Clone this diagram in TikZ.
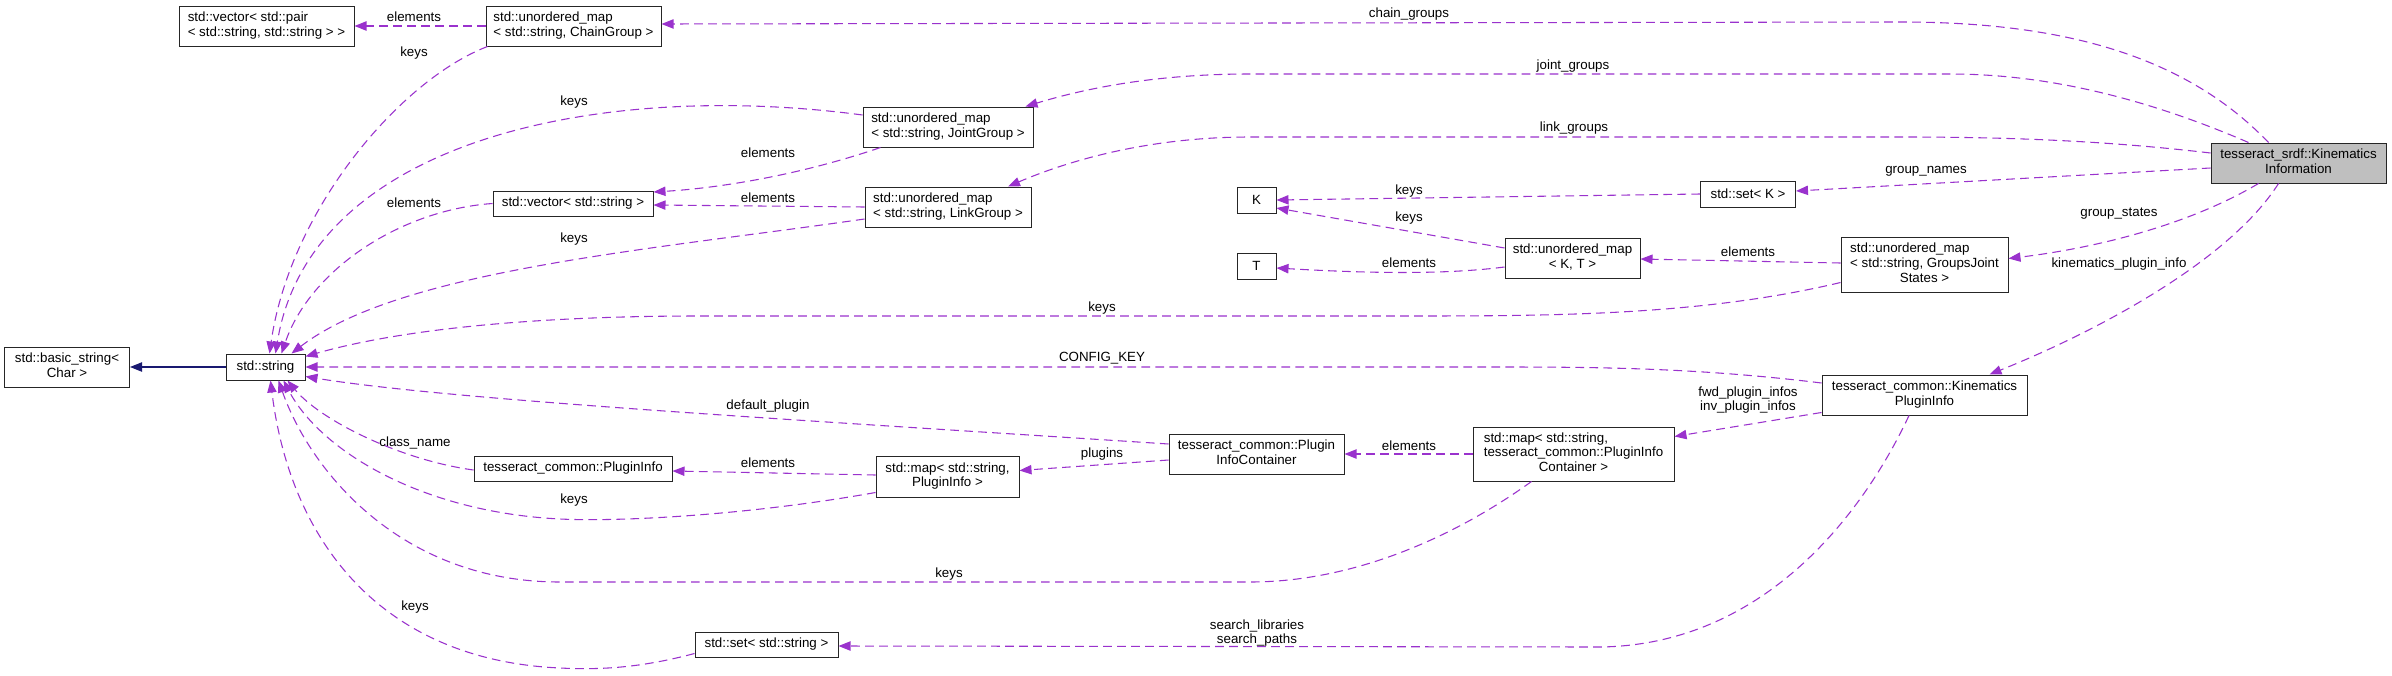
\documentclass[tikz,border=0pt]{standalone}
\usepackage{fontspec}
\setmainfont{Liberation Sans}
\usetikzlibrary{arrows.meta,calc}
\definecolor{depc}{HTML}{9A32CD}
\definecolor{inhc}{HTML}{191970}
\definecolor{kifill}{HTML}{BFBFBF}
\newcommand\mylines[2]{\begin{tabular}{@{}l@{}}#1\\\multicolumn{1}{@{}c@{}}{#2}\end{tabular}}
\begin{document}
\begin{tikzpicture}[x=0.75pt,y=-0.75pt,
  cls/.style 2 args={draw=black!85, line width=0.75pt, fill=white, inner sep=0pt,
    minimum width=#1*0.75pt, minimum height=#2*0.75pt, font=\fontsize{10}{11}\selectfont},
  usage/.style={draw=depc, line width=0.8pt, dash pattern=on 6.5pt off 4pt,
    -{Triangle[length=9pt,width=7pt]}},
  inhline/.style={draw=inhc, line width=0.8pt, -{Triangle[length=9pt,width=7pt]}},
  lbl/.style={inner sep=0pt, font=\fontsize{10}{11}\selectfont, align=center}]
\useasboundingbox (0,0) rectangle (2392,675);
\fill[white] (0,0) rectangle (2392,675);

% nodes
\node[cls={175}{40}] (vp) at (266.5,26) {\mylines{std::vector< std::pair}{< std::string, std::string > >}};
\node[cls={175}{40}] (cg) at (573.5,26) {\mylines{std::unordered\_map}{< std::string, ChainGroup >}};
\node[cls={170}{40}] (jg) at (948,127) {\mylines{std::unordered\_map}{< std::string, JointGroup >}};
\node[cls={166}{40}] (lg) at (948,207) {\mylines{std::unordered\_map}{< std::string, LinkGroup >}};
\node[cls={160}{25}] (vs) at (573,203.5) {std::vector< std::string >};
\node[cls={125}{40}] (bs) at (67,367) {\mylines{std::basic\_string<}{Char >}};
\node[cls={79}{26}] (str) at (265.5,367) {std::string};
\node[cls={39}{26}] (K) at (1256.5,200) {K};
\node[cls={39}{26}] (T) at (1256.5,266) {T};
\node[cls={135}{40}] (kt) at (1572.5,258) {\mylines{std::unordered\_map}{< K, T >}};
\node[cls={95}{26}] (sk) at (1748,194) {std::set< K >};
\node[cls={167}{55}] (gjs) at (1924.5,264.5) {\mylines{std::unordered\_map\\< std::string, GroupsJoint}{States >}};
\node[cls={175}{40}, fill=kifill] (ki) at (2298.5,163) {\mylines{tesseract\_srdf::Kinematics}{Information}};
\node[cls={205}{40}] (kpi) at (1924.5,395) {\mylines{tesseract\_common::Kinematics}{PluginInfo}};
\node[cls={201}{54}] (mpic) at (1573.5,454) {\mylines{std::map< std::string,\\tesseract\_common::PluginInfo}{Container >}};
\node[cls={175}{40}] (pic) at (1256.5,454) {\mylines{tesseract\_common::Plugin}{InfoContainer}};
\node[cls={143}{41}] (mpi) at (947.5,476.5) {\mylines{std::map< std::string,}{PluginInfo >}};
\node[cls={198}{25}] (pi) at (573,468.5) {tesseract\_common::PluginInfo};
\node[cls={143}{25}] (ss) at (766.5,644.5) {std::set< std::string >};

% edges
\draw[inhline] (str.west) -- (bs.east);
\draw[usage] (cg.west) -- (vp.east);
\draw[usage] ($(cg.south west)+(2,0)$) .. controls (400,80) and (290,210) .. ($(str.north)+(4,0)$);
\draw[usage] ($(jg.west)+(0,-12)$) .. controls (600,80) and (310,140) .. ($(str.north)+(10,0)$);
\draw[usage] ($(jg.south west)+(18,0)$) .. controls (800,175) and (720,188) .. ($(vs.east)+(0,-11.5)$);
\draw[usage] (lg.west) -- ($(vs.east)+(0,1.5)$);
\draw[usage] (vs.west) .. controls (400,210) and (310,270) .. ($(str.north)+(16,0)$);
\draw[usage] ($(lg.west)+(0,12)$) .. controls (650,250) and (400,270) .. ($(str.north east)+(-14,0)$);
\draw[usage] ($(gjs.west)+(0,18)$) .. controls (1700,316) and (1550,316) .. (1400,316) -- (700,316) .. controls (500,316) and (380,335) .. ($(str.north east)+(0,3)$);
\draw[usage] ($(kpi.west)+(0,-12)$) .. controls (1700,368) and (1600,367) .. (1500,367) -- (str.east);
\draw[usage] ($(pic.west)+(0,-10)$) .. controls (800,420) and (450,400) .. ($(str.south east)+(0,-4)$);
\draw[usage] ($(pi.west)+(0,1.5)$) .. controls (400,460) and (320,420) .. ($(str.south)+(22,0)$);
\draw[usage] ($(mpi.south west)+(0,-5)$) .. controls (750,515) and (620,522) .. (560,519) .. controls (420,512) and (320,450) .. ($(str.south)+(18,0)$);
\draw[usage] ($(mpic.south west)+(59,0)$) .. controls (1450,540) and (1350,582) .. (1250,582) -- (560,582) .. controls (400,582) and (310,470) .. ($(str.south)+(13,0)$);
\draw[usage] ($(ss.west)+(0,9)$) .. controls (640,668) and (600,670) .. (560,668) .. controls (380,660) and (290,540) .. ($(str.south)+(5,0)$);
\draw[usage] ($(mpi.west)+(0,-1.5)$) -- ($(pi.east)+(0,2.5)$);
\draw[usage] ($(pic.west)+(0,6)$) -- ($(mpi.east)+(0,-6)$);
\draw[usage] (mpic.west) -- (pic.east);
\draw[usage] ($(kpi.south west)+(0,-3)$) -- ($(mpic.north east)+(0,10)$);
\draw[usage] ($(kpi.south)+(-15.5,0)$) .. controls (1860,520) and (1760,645) .. (1600,647) -- ($(ss.east)+(0,1.5)$);
\draw[usage] ($(ki.north)+(-30,0)$) .. controls (2180,50) and (2050,22) .. (1900,22) -- ($(cg.east)+(0,-2)$);
\draw[usage] ($(ki.north)+(-50,0)$) .. controls (2150,100) and (2050,74) .. (1950,74) -- (1250,74) .. controls (1150,74) and (1080,90) .. ($(jg.north east)+(-8,0)$);
\draw[usage] ($(ki.west)+(0,-10)$) .. controls (2100,140) and (2000,137) .. (1900,137) -- (1250,137) .. controls (1150,137) and (1070,160) .. ($(lg.north)+(60,0)$);
\draw[usage] ($(ki.west)+(0,5)$) -- ($(sk.east)+(0,-3)$);
\draw[usage] ($(ki.south)+(-40,0)$) .. controls (2180,230) and (2080,250) .. ($(gjs.east)+(0,-6)$);
\draw[usage] ($(ki.south)+(-20,0)$) .. controls (2230,260) and (2100,330) .. ($(kpi.north)+(65,0)$);
\draw[usage] (sk.west) -- (K.east);
\draw[usage] ($(kt.west)+(0,-10)$) -- ($(K.east)+(0,8)$);
\draw[usage] ($(kt.west)+(0,9)$) .. controls (1450,274) and (1380,274) .. ($(T.east)+(0,2)$);
\draw[usage] ($(gjs.west)+(0,-1.5)$) -- ($(kt.east)+(0,1)$);

% labels
\node[lbl] (l2) at (414,17) {elements};
\node[lbl] (l3) at (414,53) {keys};
\node[lbl] (l4) at (574,102) {keys};
\node[lbl] (l5) at (768,153) {elements};
\node[lbl] (l6) at (768,198) {elements};
\node[lbl] (l7) at (414,203) {elements};
\node[lbl] (l8) at (574,239) {keys};
\node[lbl] (l9) at (1102,308) {keys};
\node[lbl] (l10) at (1102,358) {CONFIG\_KEY};
\node[lbl] (l11) at (768,406) {default\_plugin};
\node[lbl] (l12) at (415,443) {class\_name};
\node[lbl] (l13) at (574,500) {keys};
\node[lbl] (l14) at (949,574) {keys};
\node[lbl] (l15) at (415,607) {keys};
\node[lbl] (l16) at (768,463) {elements};
\node[lbl] (l17) at (1102,454) {plugins};
\node[lbl] (l18) at (1409,446) {elements};
\node[lbl] (l19) at (1748,400) {fwd\_plugin\_infos\\inv\_plugin\_infos};
\node[lbl] (l20) at (1257,633) {search\_libraries\\search\_paths};
\node[lbl] (l21) at (1409,14) {chain\_groups};
\node[lbl] (l22) at (1573,66) {joint\_groups};
\node[lbl] (l23) at (1574,128) {link\_groups};
\node[lbl] (l24) at (1926,171) {group\_names};
\node[lbl] (l25) at (2119,214) {group\_states};
\node[lbl] (l26) at (2119,264) {kinematics\_plugin\_info};
\node[lbl] (l27) at (1409,191) {keys};
\node[lbl] (l28) at (1409,218) {keys};
\node[lbl] (l29) at (1409,263) {elements};
\node[lbl] (l30) at (1748,252) {elements};
\end{tikzpicture}
\end{document}
